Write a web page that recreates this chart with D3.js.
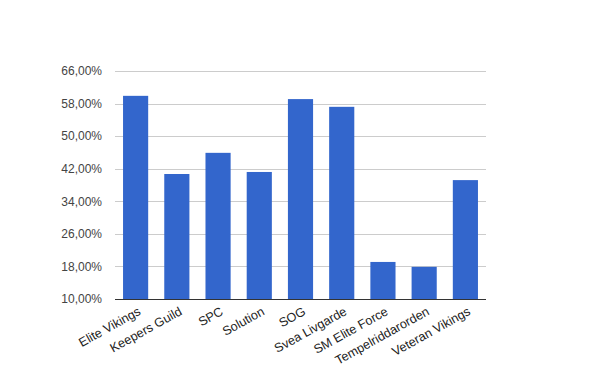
<!DOCTYPE html>
<html>
<head>
<meta charset="utf-8">
<script src="https://cdn.jsdelivr.net/npm/d3@7"></script>
<style>
  body { margin: 0; background: #fff; }
  svg text { font-family: "Liberation Sans", Arial, sans-serif; }
</style>
</head>
<body>
<svg id="chart" width="600" height="371"></svg>
<script>
// chart data
const teams = ["Elite Vikings", "Keepers Guild", "SPC", "Solution", "SOG",
               "Svea Livgarde", "SM Elite Force", "Tempelriddarorden", "Veteran Vikings"];
const winRates = [59.9, 40.7, 45.9, 41.2, 59.1, 57.2, 19.1, 17.9, 39.2];
const yTicks = [10, 18, 26, 34, 42, 50, 58, 66];

const margin = {top: 71, right: 114, bottom: 72, left: 115};
const width = 600 - margin.left - margin.right;
const height = 371 - margin.top - margin.bottom;

const svg = d3.select("#chart");
const g = svg.append("g")
    .attr("transform", "translate(" + margin.left + "," + margin.top + ")");

const x = d3.scaleBand()
    .domain(teams)
    .range([0, width])
    .paddingInner(0.39)
    .paddingOuter(0.195);

const y = d3.scaleLinear()
    .domain([10, 66])
    .range([height, 0]);

// gridlines
g.selectAll(".grid")
    .data(yTicks)
    .enter().append("line")
    .attr("class", "grid")
    .attr("x1", 0)
    .attr("x2", width)
    .attr("y1", d => Math.round(y(d)) + 0.5)
    .attr("y2", d => Math.round(y(d)) + 0.5)
    .attr("stroke", "#cccccc");

// y labels
const fmt = d => d3.format(".2f")(d).replace(".", ",") + "%";
g.append("g")
    .call(d3.axisLeft(y).tickValues(yTicks).tickFormat(fmt).tickSize(0).tickPadding(13))
    .call(a => a.select(".domain").remove())
    .selectAll("text")
    .attr("fill", "#444")
    .style("font-size", "12px");

// bars
g.selectAll(".bar")
    .data(winRates)
    .enter().append("rect")
    .attr("class", "bar")
    .attr("x", (d, i) => x(teams[i]))
    .attr("width", x.bandwidth())
    .attr("y", d => y(d))
    .attr("height", d => height - y(d))
    .attr("fill", "#3366cc");

// baseline
g.append("line")
    .attr("x1", 0)
    .attr("x2", width)
    .attr("y1", height + 0.5)
    .attr("y2", height + 0.5)
    .attr("stroke", "#333");

// x labels, rotated
g.selectAll(".xlabel")
    .data(teams)
    .enter().append("text")
    .attr("class", "xlabel")
    .attr("transform", d => "translate(" + (x(d) + x.bandwidth() / 2 + 6) + "," + (height + 15) + ") rotate(-29)")
    .attr("text-anchor", "end")
    .attr("fill", "#222")
    .style("font-size", "12.6px")
    .text(d => d);
</script>
</body>
</html>
